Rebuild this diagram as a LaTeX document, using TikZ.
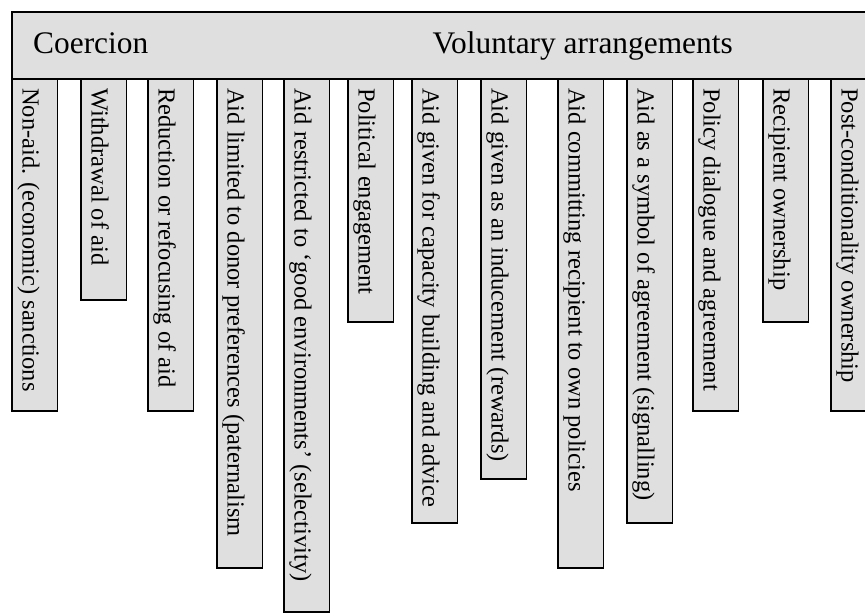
\documentclass[tikz,border=0pt]{standalone}
\usepackage{fontspec}
\setmainfont{Liberation Serif}
\usetikzlibrary{positioning}
\definecolor{boxgray}{HTML}{DFDFDF}
\tikzset{
    panel/.style={draw=black, fill=boxgray, line width=1.4pt},
    bartext/.style={rotate=-90, anchor=base west, inner sep=0pt, font=\fontsize{24.5}{28}\selectfont},
    headtext/.style={inner sep=0pt, font=\fontsize{31.4}{36}\selectfont}
}
\begin{document}
\begin{tikzpicture}[x=1pt, y=-1pt]
    \clip (0,0) rectangle (865,614);
    \fill[white] (0,0) rectangle (865,614);
    % header band
    \draw[panel] (12,12) rectangle (880,79);
    \node[headtext, anchor=base west] (coercion) at (33,53) {Coercion};
    \node[headtext, anchor=base east] (voluntary) at (733,53) {Voluntary arrangements};
    % hanging bars
    \foreach \x/\b/\t [count=\i] in {
        12/411/{Non-aid. (economic) sanctions},
        81/300/{Withdrawal of aid},
        148/411/{Reduction or refocusing of aid},
        217/568/{Aid limited to donor preferences (paternalism},
        284/612/{Aid restricted to ‘good environments’ (selectivity)},
        348/322/{Political engagement},
        412/523/{Aid given for capacity building and advice},
        481/479/{Aid given as an inducement (rewards)},
        558/568/{Aid committing recipient to own policies},
        627/523/{Aid as a symbol of agreement (signalling)},
        693/411/{Policy dialogue and agreement},
        763/322/{Recipient ownership},
        831/411/{Post-conditionality ownership}} {
        \draw[panel] (\x,79) rectangle (\x+45.5,\b);
        \node[bartext] (bar\i) at (\x+10.5,88) {\t};
    }
\end{tikzpicture}
\end{document}
